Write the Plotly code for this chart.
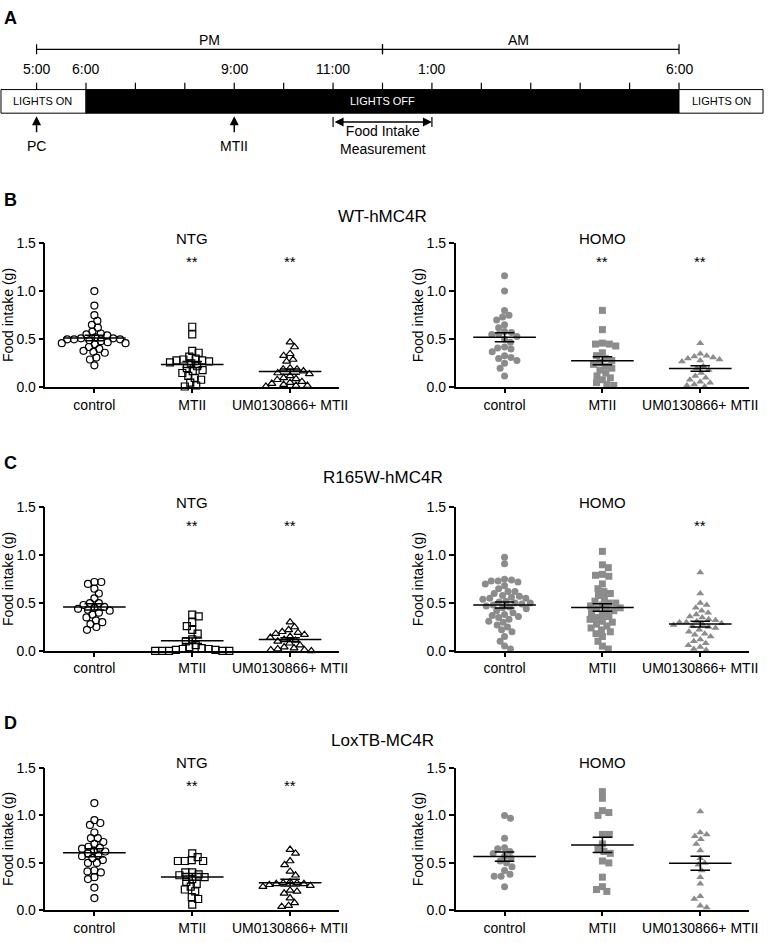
import numpy as np
import plotly.graph_objects as go

W, H = 774, 943
FONT = "Arial, Liberation Sans, sans-serif"
GRAY = "#8c8c8c"

# ---------------- data ----------------
groups = ["control", "MTII", "UM0130866+ MTII"]

# Panel A timeline (hours, 17 = 5:00 PM, 30 = 6:00 AM)
time_label_hours = [17, 18, 21, 23, 25, 30]
time_labels = ["5:00", "6:00", "9:00", "11:00", "1:00", "6:00"]
hour_ticks = list(range(17, 31))
lights_on_end, lights_off_end = 18, 30
injection_hours = [17, 21]
injection_labels = ["PC", "MTII"]
measure_start, measure_end = 23, 25

# Panel B  WT-hMC4R
B_ntg_control = [1.00, 0.85, 0.75, 0.69, 0.65, 0.62, 0.58, 0.56, 0.55, 0.54, 0.52, 0.51, 0.51, 0.50, 0.50,
                 0.50, 0.49, 0.48, 0.47, 0.46, 0.46, 0.45, 0.42, 0.40, 0.38, 0.37, 0.36, 0.31, 0.29, 0.23]
B_ntg_mtii = [0.63, 0.55, 0.38, 0.36, 0.32, 0.30, 0.29, 0.28, 0.28, 0.27, 0.26, 0.25, 0.22, 0.20, 0.18,
              0.17, 0.15, 0.12, 0.10, 0.08, 0.05, 0.02, 0.01]
B_ntg_um = [0.47, 0.42, 0.35, 0.33, 0.29, 0.27, 0.19, 0.20, 0.19, 0.17, 0.15, 0.14, 0.12, 0.10, 0.09,
            0.08, 0.06, 0.05, 0.04, 0.03, 0.02, 0.02, 0.01]
B_homo_control = [1.16, 1.00, 0.80, 0.75, 0.73, 0.70, 0.65, 0.62, 0.58, 0.57, 0.55, 0.55, 0.53, 0.50, 0.47,
                  0.42, 0.41, 0.40, 0.37, 0.33, 0.31, 0.30, 0.28, 0.25, 0.20, 0.12]
B_homo_mtii = [0.80, 0.60, 0.46, 0.45, 0.45, 0.43, 0.36, 0.33, 0.30, 0.28, 0.26, 0.24, 0.22, 0.20, 0.18,
               0.15, 0.12, 0.10, 0.08, 0.05, 0.03, 0.02]
B_homo_um = [0.46, 0.35, 0.33, 0.32, 0.31, 0.30, 0.29, 0.28, 0.27, 0.22, 0.20, 0.18, 0.15, 0.12, 0.10,
             0.08, 0.06, 0.05, 0.03, 0.02, 0.01]

# Panel C  R165W-hMC4R
C_ntg_control = [0.72, 0.72, 0.70, 0.65, 0.60, 0.55, 0.50, 0.50, 0.48, 0.46, 0.45, 0.44, 0.43, 0.42, 0.40,
                 0.38, 0.35, 0.32, 0.30, 0.28, 0.25, 0.22]
C_ntg_mtii = [0.38, 0.36, 0.30, 0.26, 0.22, 0.18, 0.12, 0.10, 0.06, 0.04, 0.03, 0.02, 0.02, 0.01, 0.01,
              0.00, 0.00, 0.00, 0.00, 0.00]
C_ntg_um = [0.30, 0.25, 0.22, 0.20, 0.19, 0.18, 0.17, 0.15, 0.14, 0.12, 0.11, 0.10, 0.08, 0.06, 0.04,
            0.03, 0.02, 0.01, 0.01, 0.00]
C_homo_control = [0.98, 0.91, 0.75, 0.74, 0.73, 0.73, 0.72, 0.70, 0.68, 0.65, 0.62, 0.62, 0.60, 0.58, 0.57,
                  0.56, 0.55, 0.55, 0.54, 0.52, 0.51, 0.50, 0.50, 0.49, 0.48, 0.47, 0.46, 0.45, 0.44, 0.42,
                  0.40, 0.38, 0.37, 0.36, 0.35, 0.33, 0.31, 0.30, 0.27, 0.25, 0.22, 0.20, 0.15, 0.10, 0.05,
                  0.02]
C_homo_mtii = [1.04, 0.90, 0.87, 0.80, 0.79, 0.78, 0.70, 0.65, 0.62, 0.60, 0.58, 0.55, 0.52, 0.50, 0.50,
               0.48, 0.47, 0.45, 0.44, 0.43, 0.42, 0.40, 0.38, 0.36, 0.35, 0.33, 0.31, 0.30, 0.28, 0.26,
               0.24, 0.22, 0.20, 0.18, 0.15, 0.10, 0.05, 0.02]
C_homo_um = [0.82, 0.60, 0.50, 0.48, 0.45, 0.42, 0.40, 0.38, 0.36, 0.35, 0.33, 0.32, 0.31, 0.30, 0.30,
             0.29, 0.28, 0.27, 0.26, 0.25, 0.24, 0.22, 0.20, 0.18, 0.17, 0.15, 0.12, 0.10, 0.08, 0.06,
             0.04, 0.02, 0.01]

# Panel D  LoxTB-MC4R
D_ntg_control = [1.13, 0.95, 0.92, 0.90, 0.82, 0.76, 0.76, 0.72, 0.70, 0.67, 0.66, 0.65, 0.63, 0.62, 0.60,
                 0.58, 0.57, 0.55, 0.53, 0.50, 0.50, 0.42, 0.41, 0.40, 0.35, 0.33, 0.24, 0.13]
D_ntg_mtii = [0.60, 0.56, 0.53, 0.52, 0.52, 0.52, 0.40, 0.38, 0.40, 0.37, 0.35, 0.33, 0.30, 0.28, 0.25,
              0.22, 0.20, 0.14, 0.12, 0.06]
D_ntg_um = [0.64, 0.60, 0.52, 0.48, 0.41, 0.37, 0.30, 0.29, 0.29, 0.28, 0.28, 0.27, 0.26, 0.25, 0.21,
            0.20, 0.18, 0.13, 0.08, 0.05, 0.04]
D_homo_control = [1.00, 0.97, 0.76, 0.66, 0.65, 0.62, 0.60, 0.57, 0.55, 0.52, 0.50, 0.46, 0.42, 0.38, 0.36,
                  0.36, 0.25]
D_homo_mtii = [1.25, 1.18, 1.05, 1.03, 1.00, 0.80, 0.80, 0.70, 0.65, 0.62, 0.60, 0.52, 0.50, 0.35, 0.25,
               0.22, 0.20]
D_homo_um = [1.04, 0.82, 0.80, 0.78, 0.75, 0.70, 0.63, 0.55, 0.50, 0.48, 0.42, 0.35, 0.28, 0.15, 0.12,
             0.05, 0.03]

# significance (** above group index)
B_ntg_sig, B_homo_sig = [1, 2], [1, 2]
C_ntg_sig, C_homo_sig = [1, 2], [2]
D_ntg_sig, D_homo_sig = [1, 2], []

rows = [
    dict(letter="B", title="WT-hMC4R", ntg=[B_ntg_control, B_ntg_mtii, B_ntg_um],
         homo=[B_homo_control, B_homo_mtii, B_homo_um], sig=(B_ntg_sig, B_homo_sig),
         top=239, bot=386, ltr=195, ttl=212, sub=234),
    dict(letter="C", title="R165W-hMC4R", ntg=[C_ntg_control, C_ntg_mtii, C_ntg_um],
         homo=[C_homo_control, C_homo_mtii, C_homo_um], sig=(C_ntg_sig, C_homo_sig),
         top=508, bot=654, ltr=463, ttl=478, sub=503),
    dict(letter="D", title="LoxTB-MC4R", ntg=[D_ntg_control, D_ntg_mtii, D_ntg_um],
         homo=[D_homo_control, D_homo_mtii, D_homo_um], sig=(D_ntg_sig, D_homo_sig),
         top=773, bot=918, ltr=727, ttl=745, sub=768),
]


def px(x):
    return x / W


def py(y):
    return 1 - y / H


def swarm(vals, xpp, ypp, d=6.6):
    vals = np.asarray(vals, float)
    order = np.argsort(-vals, kind="stable")
    placed = []
    offs = np.zeros(len(vals))
    flip = 1
    for i in order:
        y = vals[i] * ypp
        best = None
        k = 0
        while best is None:
            cands = [0.0] if k == 0 else [flip * k * 0.5, -flip * k * 0.5]
            for o in cands:
                if all((o - po) ** 2 + (y - yy) ** 2 >= d * d for po, yy in placed):
                    best = o
                    break
            k += 1
        if best != 0:
            flip = -flip
        placed.append((best, y))
        offs[i] = best
    return offs / xpp


def text(t, x, y, xref="paper", yref="paper", size=14, color="black", **kw):
    d = dict(text=t, x=x, y=y, xref=xref, yref=yref, showarrow=False, xanchor="center", yanchor="middle",
             font=dict(size=size, color=color, family=FONT))
    d.update(kw)
    return d


fig = go.Figure()
layout = dict(width=W, height=H, margin=dict(l=0, r=0, t=0, b=0), paper_bgcolor="white",
              plot_bgcolor="rgba(0,0,0,0)", showlegend=False, font=dict(family=FONT, color="black"))
annotations = []
shapes = []

LEFT = (46, 343)
RIGHT = (461, 758)
open_syms = ["circle-open", "square-open", "triangle-up-open"]
fill_syms = ["circle", "square", "triangle-up"]

ax_i = 0
for r in rows:
    for side, (x0, x1) in enumerate([LEFT, RIGHT]):
        ax_i += 1
        xa = "x" if ax_i == 1 else f"x{ax_i}"
        ya = "y" if ax_i == 1 else f"y{ax_i}"
        xpp = (x1 - x0) / 3.0
        ypp = (r["bot"] - r["top"]) / 1.5
        data = r["ntg"] if side == 0 else r["homo"]
        for g, vals in enumerate(data):
            offs = swarm(vals, xpp, ypp)
            if side == 0:
                mk = dict(symbol=open_syms[g], size=7, color="black", line=dict(color="black", width=1.2))
            else:
                mk = dict(symbol=fill_syms[g], size=7, color=GRAY, line=dict(color=GRAY, width=0))
            fig.add_trace(go.Scatter(x=g + offs, y=vals, mode="markers", marker=mk, xaxis=xa, yaxis=ya,
                                     cliponaxis=False, hoverinfo="y"))
            v = np.asarray(vals, float)
            m = v.mean()
            s = v.std(ddof=1) / np.sqrt(len(v))
            fig.add_trace(go.Scatter(
                x=[g - 0.32, g + 0.32, None, g, g, None, g - 0.1, g + 0.1, None, g - 0.1, g + 0.1],
                y=[m, m, None, m - s, m + s, None, m + s, m + s, None, m - s, m - s],
                mode="lines", line=dict(color="black", width=1.5), xaxis=xa, yaxis=ya,
                cliponaxis=False, hoverinfo="skip"))
        axkey = "xaxis" if ax_i == 1 else f"xaxis{ax_i}"
        aykey = "yaxis" if ax_i == 1 else f"yaxis{ax_i}"
        layout[axkey] = dict(domain=[px(x0), px(x1)], anchor=ya, range=[-0.5, 2.5], showline=True,
                             linecolor="black", linewidth=1.5, ticks="outside", ticklen=4, tickwidth=1.5,
                             tickcolor="black", tickvals=[0, 1, 2], ticktext=groups,
                             tickfont=dict(size=14, family=FONT), showgrid=False, zeroline=False,
                             fixedrange=True)
        layout[aykey] = dict(domain=[py(r["bot"]), py(r["top"])], anchor=xa, range=[0, 1.5], showline=True,
                             linecolor="black", linewidth=1.5, ticks="outside", ticklen=5, tickwidth=1.5,
                             tickcolor="black", tickvals=[0, 0.5, 1.0, 1.5], tickformat=".1f",
                             tickfont=dict(size=14, family=FONT), showgrid=False, zeroline=False,
                             fixedrange=True)
        annotations.append(text("NTG" if side == 0 else "HOMO", px(x0 + (x1 - x0) / 2), py(r["sub"]), size=15))
        for g in r["sig"][side]:
            annotations.append(text("**", g, 1.31, xref=xa, yref=ya, size=15))
        annotations.append(text("Food intake (g)", px(x0 - 38), py((r["top"] + r["bot"]) / 2), size=14,
                                textangle=-90))
    annotations.append(text(f"<b>{r['letter']}</b>", px(2), py(r["ltr"]), size=18, xanchor="left"))
    annotations.append(text(r["title"], 0.5, py(r["ttl"]), size=17))

# ---------------- Panel A timeline ----------------
TX, TY = "x7", "y7"
layout["xaxis7"] = dict(domain=[0, 1], anchor="y7", range=[17 - 37 / 50, 17 + (W - 37) / 50], visible=False,
                        fixedrange=True)
layout["yaxis7"] = dict(domain=[py(150), 1], anchor="x7", range=[150, 0], visible=False, fixedrange=True)
fig.add_trace(go.Scatter(x=[17], y=[0], mode="markers", marker=dict(opacity=0), xaxis=TX, yaxis=TY,
                         hoverinfo="skip"))

bar_top, bar_bot = 83, 107
shapes.append(dict(type="rect", xref=TX, yref=TY, x0=16.28, x1=lights_on_end, y0=bar_top, y1=bar_bot,
                   line=dict(color="black", width=1), fillcolor="white"))
shapes.append(dict(type="rect", xref=TX, yref=TY, x0=lights_on_end, x1=lights_off_end, y0=bar_top,
                   y1=bar_bot, line=dict(color="black", width=1), fillcolor="black"))
shapes.append(dict(type="rect", xref=TX, yref=TY, x0=lights_off_end, x1=31.7, y0=bar_top, y1=bar_bot,
                   line=dict(color="black", width=1), fillcolor="white"))
for h in hour_ticks:
    shapes.append(dict(type="line", xref=TX, yref=TY, x0=h, x1=h, y0=76, y1=bar_top,
                       line=dict(color="black", width=1.2)))
for h, lab in zip(time_label_hours, time_labels):
    annotations.append(text(lab, h, 62, xref=TX, yref=TY, size=14))

for a, b, lab, lx in [(17, 24, "PM", 20.5), (24, 30, "AM", 26.75)]:
    shapes.append(dict(type="line", xref=TX, yref=TY, x0=a, x1=b, y0=42, y1=42,
                       line=dict(color="black", width=1.2)))
    for e in (a, b):
        shapes.append(dict(type="line", xref=TX, yref=TY, x0=e, x1=e, y0=37, y1=47,
                           line=dict(color="black", width=1.2)))
    annotations.append(text(lab, lx, 33, xref=TX, yref=TY, size=14))

annotations.append(text("LIGHTS ON", 17.12, 95, xref=TX, yref=TY, size=11))
annotations.append(text("LIGHTS ON", 30.86, 95, xref=TX, yref=TY, size=11))
annotations.append(text("LIGHTS OFF", 24, 95, xref=TX, yref=TY, size=11, color="white"))

for h, lab in zip(injection_hours, injection_labels):
    annotations.append(dict(text="", x=h, y=110, xref=TX, yref=TY, ax=h, ay=128, axref=TX, ayref=TY,
                            showarrow=True, arrowhead=2, arrowsize=1.2, arrowwidth=1.5, arrowcolor="black"))
    annotations.append(text(lab, h, 140, xref=TX, yref=TY, size=14))

annotations.append(dict(text="", x=measure_end, y=116, ax=measure_start, ay=116, xref=TX, yref=TY,
                        axref=TX, ayref=TY, showarrow=True, arrowhead=2, arrowside="end+start",
                        arrowsize=1.2, arrowwidth=1.5, arrowcolor="black"))
for e in (measure_start, measure_end):
    shapes.append(dict(type="line", xref=TX, yref=TY, x0=e, x1=e, y0=111, y1=121,
                       line=dict(color="black", width=1.2)))
annotations.append(text("Food Intake<br>Measurement", (measure_start + measure_end) / 2, 134,
                        xref=TX, yref=TY, size=14))
annotations.append(text("<b>A</b>", px(2), py(10), size=18, xanchor="left"))

layout["annotations"] = annotations
layout["shapes"] = shapes
fig.update_layout(**layout)
fig.write_html("out.html", config={"displayModeBar": False},
               post_script="document.body.style.margin='0';document.body.style.padding='0';")
